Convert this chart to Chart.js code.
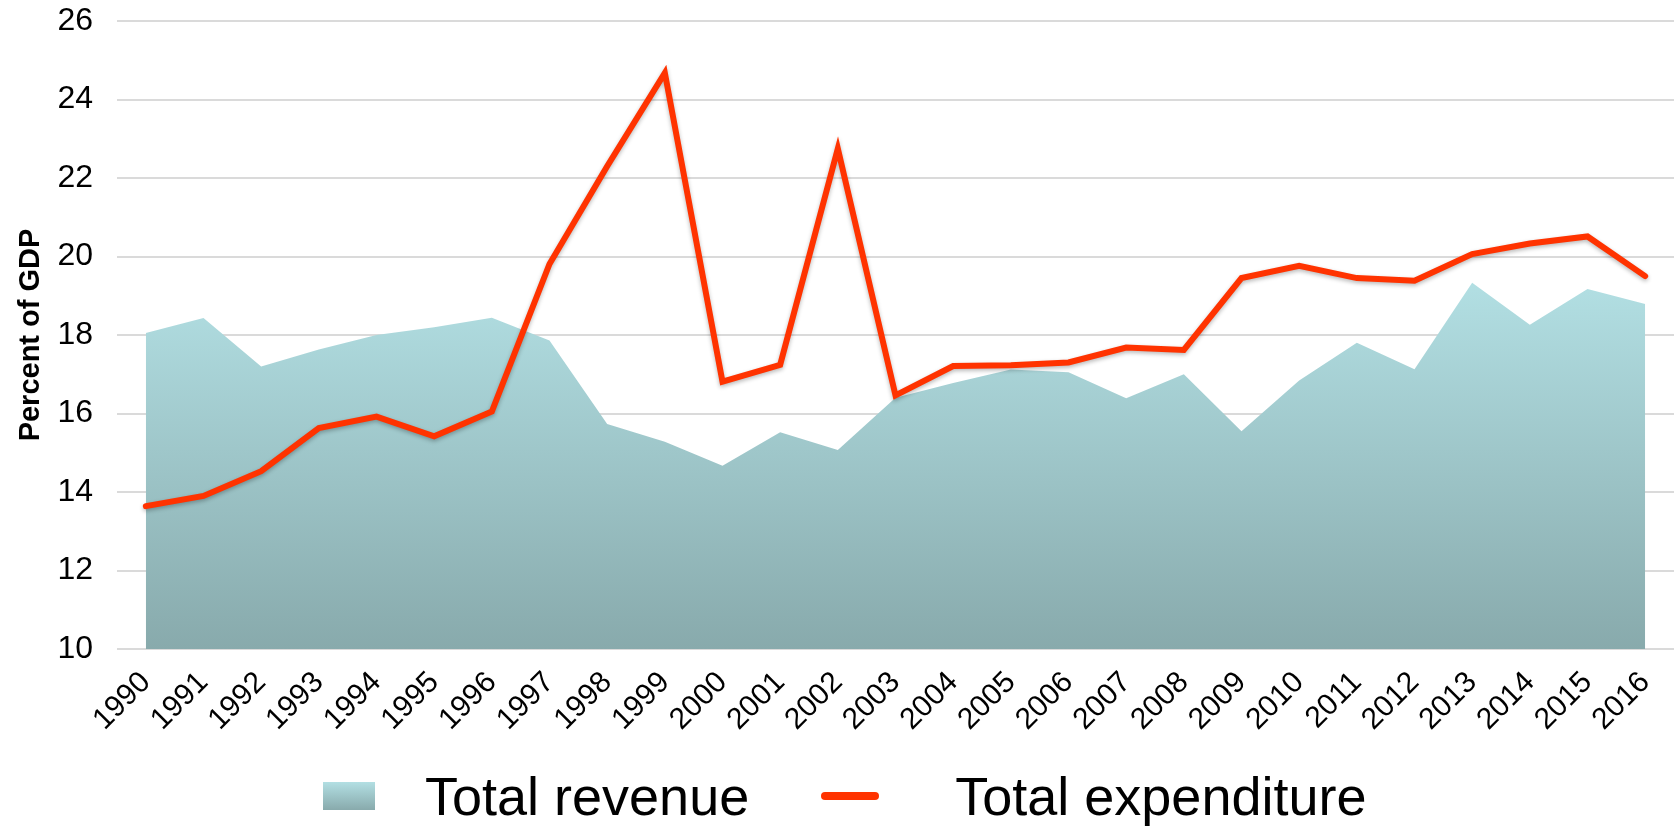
<!DOCTYPE html>
<html>
<head>
<meta charset="utf-8">
<script src="https://cdn.jsdelivr.net/npm/chart.js@4.4.1/dist/chart.umd.min.js"></script>
<style>
  html, body { margin: 0; padding: 0; background: #fff; }
  body { width: 1679px; height: 827px; position: relative; overflow: hidden; font-family: "Liberation Sans", Arial, Helvetica, sans-serif; }
  #wrap { position: absolute; left: 0; top: 0; width: 1679px; height: 760px; }
  #legend { position: absolute; left: 323px; top: 764px; height: 64px; display: flex; align-items: center; font-size: 54px; color: #000; white-space: nowrap; }
  .swatch { width: 52px; height: 28px; background: linear-gradient(#b2dfe3, #88aaac); }
  .dash { width: 58px; height: 8px; border-radius: 4px; background: #ff3300; }
</style>
</head>
<body>
<div id="wrap"><canvas id="chart"></canvas></div>
<div id="legend"></div>
<script>
// values (percent of GDP)
const years = ['1990', '1991', '1992', '1993', '1994', '1995', '1996', '1997', '1998', '1999',
  '2000', '2001', '2002', '2003', '2004', '2005', '2006', '2007', '2008', '2009',
  '2010', '2011', '2012', '2013', '2014', '2015', '2016'];
const revenue = [18.05, 18.43, 17.2, 17.63, 18.0, 18.2, 18.44, 17.86, 15.73, 15.28,
  14.67, 15.52, 15.07, 16.4, 16.78, 17.12, 17.05, 16.39, 17.0, 15.55,
  16.84, 17.8, 17.13, 19.33, 18.26, 19.17, 18.79];
const expenditure = [13.64, 13.9, 14.53, 15.63, 15.92, 15.42, 16.05, 19.81, 22.3, 24.68,
  16.81, 17.24, 22.75, 16.46, 17.21, 17.23, 17.3, 17.68, 17.62, 19.45,
  19.76, 19.45, 19.38, 20.06, 20.33, 20.51, 19.5];
const yMin = 10, yMax = 26, yStep = 2;
const seriesNames = ['Total revenue', 'Total expenditure'];

const FONT = '"Liberation Sans", Arial, Helvetica, sans-serif';
const CANVAS_H = 760;
const AREA_LEFT = 117, AREA_BOTTOM = 649;

// gradient from the top of the revenue shape down to the baseline
function revenueFill(ctx) {
    const chart = ctx.chart;
    const area = chart.chartArea;
    if (!area) return '#a3cdd1';
    const top = chart.scales.y.getPixelForValue(Math.max(...revenue));
    const g = chart.ctx.createLinearGradient(0, top, 0, area.bottom);
    g.addColorStop(0, '#b2dfe3');
    g.addColorStop(1, '#88aaac');
    return g;
}

// soft drop shadow under the expenditure line
const lineShadow = {
    id: 'lineShadow',
    beforeDatasetDraw(chart, args) {
        if (args.index !== 1) return;
        const c = chart.ctx;
        c.save();
        c.shadowColor = 'rgba(0,0,0,0.28)';
        c.shadowBlur = 4;
        c.shadowOffsetY = 2;
    },
    afterDatasetDraw(chart, args) {
        if (args.index !== 1) return;
        chart.ctx.restore();
    }
};

const chart = new Chart(document.getElementById('chart'), {
    type: 'line',
    data: {
        labels: years,
        datasets: [
            {
                label: seriesNames[0],
                data: revenue,
                fill: 'start',
                backgroundColor: revenueFill,
                borderWidth: 0,
                pointRadius: 0,
                tension: 0,
                order: 1
            },
            {
                label: seriesNames[1],
                data: expenditure,
                fill: false,
                borderColor: '#ff3300',
                borderWidth: 6,
                borderJoinStyle: 'miter',
                borderCapStyle: 'round',
                pointRadius: 0,
                tension: 0,
                order: 0
            }
        ]
    },
    options: {
        responsive: true,
        maintainAspectRatio: false,
        animation: false,
        layout: { padding: { left: 0, right: 5, top: 21, bottom: 0 } },
        plugins: {
            legend: { display: false },
            tooltip: { enabled: false }
        },
        scales: {
            x: {
                offset: true,
                grid: { display: false, drawTicks: false },
                border: { display: false },
                ticks: {
                    color: '#000',
                    font: { family: FONT, size: 30 },
                    minRotation: 45,
                    maxRotation: 45,
                    autoSkip: false,
                    padding: 16
                },
                afterFit: (s) => {
                    s.height = CANVAS_H - AREA_BOTTOM;
                    // rotated labels would otherwise shrink the plot on the right
                    s.paddingLeft = 0;
                    s.paddingRight = 0;
                }
            },
            y: {
                min: yMin,
                max: yMax,
                // gap between labels and plot comes from an invisible tick mark,
                // tick padding would also push the plot area down
                grid: { color: '#dadada', lineWidth: 2, drawTicks: true, tickLength: 24, tickColor: 'rgba(0,0,0,0)' },
                border: { display: false },
                ticks: {
                    stepSize: yStep,
                    color: '#000',
                    font: { family: FONT, size: 32 },
                    padding: 0
                },
                title: {
                    display: true,
                    text: 'Percent of GDP',
                    color: '#000',
                    font: { family: FONT, size: 29, weight: 'bold' },
                    padding: { top: 14, bottom: 0 }
                },
                afterFit: (s) => { s.width = AREA_LEFT; }
            }
        }
    },
    plugins: [lineShadow]
});

// legend below the chart, built from the dataset labels
const legendEl = document.getElementById('legend');
chart.data.datasets.forEach((ds, i) => {
    const mark = document.createElement('div');
    mark.className = i === 0 ? 'swatch' : 'dash';
    if (i > 0) mark.style.marginLeft = '72px';
    const txt = document.createElement('span');
    txt.textContent = ds.label;
    txt.style.marginLeft = i === 0 ? '50px' : '76px';
    legendEl.appendChild(mark);
    legendEl.appendChild(txt);
});
</script>
</body>
</html>
